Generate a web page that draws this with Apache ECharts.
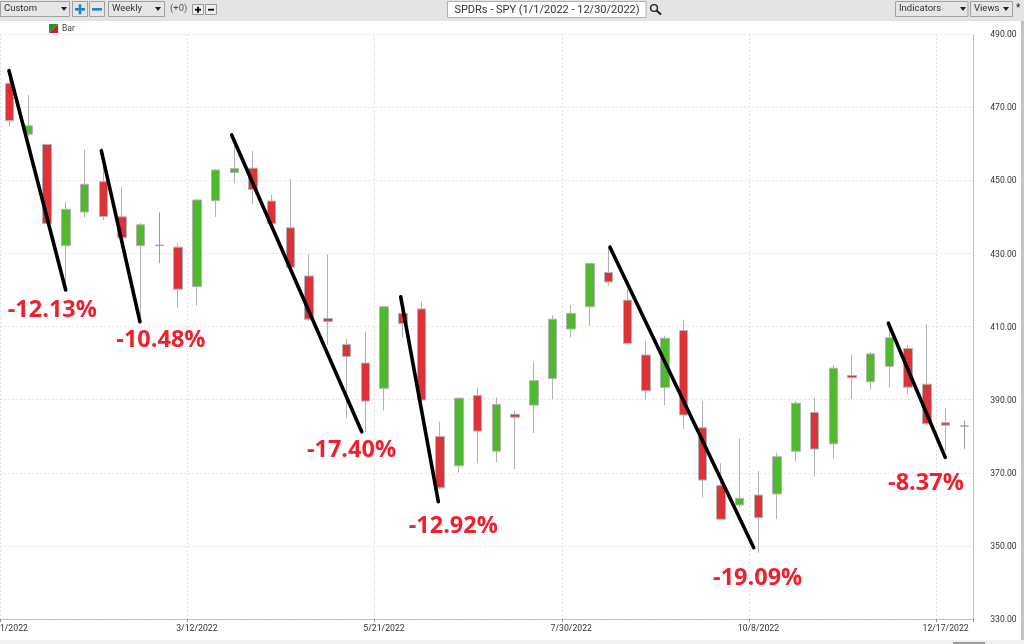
<!DOCTYPE html>
<html>
<head>
<meta charset="utf-8">
<style>html,body{margin:0;padding:0;background:#fff}#c{width:1024px;height:644px}</style>
<script src="https://cdn.jsdelivr.net/npm/echarts@6/dist/echarts.min.js"></script>
</head>
<body>
<div id="c"></div>
<script>
const categories = ['1/1/2022','1/8/2022','1/15/2022','1/22/2022','1/29/2022','2/5/2022','2/12/2022','2/19/2022','2/26/2022','3/5/2022','3/12/2022','3/19/2022','3/26/2022','4/2/2022','4/9/2022','4/16/2022','4/23/2022','4/30/2022','5/7/2022','5/14/2022','5/21/2022','5/28/2022','6/4/2022','6/11/2022','6/18/2022','6/25/2022','7/2/2022','7/9/2022','7/16/2022','7/23/2022','7/30/2022','8/6/2022','8/13/2022','8/20/2022','8/27/2022','9/3/2022','9/10/2022','9/17/2022','9/24/2022','10/1/2022','10/8/2022','10/15/2022','10/22/2022','10/29/2022','11/5/2022','11/12/2022','11/19/2022','11/26/2022','12/3/2022','12/10/2022','12/17/2022','12/24/2022'];
const opens  = [476.5,462.6,459.8,432.1,441.3,449.6,440.0,432.1,432.2,431.7,420.9,444.4,452.1,453.3,444.3,437.0,423.8,412.2,405.1,400.0,393.1,413.6,414.8,379.9,371.9,391.1,375.9,386.0,388.5,395.8,409.3,415.4,424.8,417.2,402.2,393.3,408.9,382.3,366.5,361.2,363.9,364.2,375.9,386.5,377.9,396.6,394.9,399.1,404.0,394.2,383.7,382.8];
const closes = [466.3,464.9,438.2,442.05,448.9,440.1,434.3,437.8,432.2,420.2,444.6,452.8,453.2,447.5,438.2,426.2,412.0,411.4,401.8,389.6,415.4,410.8,389.9,365.9,390.4,381.4,388.7,385.2,395.2,412.0,413.6,427.2,422.2,405.4,392.4,406.8,385.8,368.0,357.3,363.0,357.7,374.4,389.0,376.5,398.6,396.0,402.5,406.9,393.4,383.4,383.0,382.8];
const lows   = [464.7,462.0,438.0,420.5,439.8,439.1,434.0,411.3,427.3,415.1,415.7,440.0,449.2,443.5,437.5,426.0,411.5,405.0,385.0,381.0,387.0,407.0,389.7,365.5,370.0,372.6,372.9,371.0,380.9,390.1,407.0,410.2,421.2,405.0,389.9,388.5,382.0,363.3,357.0,360.5,348.1,357.3,373.0,368.9,373.7,390.2,392.7,393.3,391.5,383.0,376.0,376.5];
const highs  = [479.0,473.3,459.9,444.1,458.3,454.0,448.2,438.3,441.2,432.6,445.0,453.0,461.0,458.0,446.0,450.3,429.7,429.7,406.6,408.7,415.6,417.0,416.8,384.0,390.5,393.3,390.6,386.9,400.4,413.1,415.9,427.4,431.5,420.3,406.0,407.5,411.7,389.6,372.6,379.4,370.5,375.5,389.6,390.5,399.5,402.4,403.1,410.0,404.9,410.6,387.6,384.3];
const yTicks = [330,350,370,390,410,430,450,470,490];
const trendA = [[0.465,479.96],[3.494,420.0]];
const trendB = [[5.395,458.1],[7.46,411.3]];
const trendC = [[12.36,462.4],[19.31,381.2]];
const trendD = [[21.39,418.1],[23.4,362.1]];
const trendE = [[32.57,431.7],[40.25,349.5]];
const trendF = [[47.44,410.9],[50.48,374.2]];
const dropLabels = ['-12.13%','-10.48%','-17.40%','-12.92%','-19.09%','-8.37%'];
const dropX = [2.78,8.58,18.76,24.2,40.46,49.45];
const dropY = [414.8,406.6,376.5,355.7,341.5,367.5];

const uiFont = 'Roboto';
const candles = categories.map((_, i) => [opens[i], closes[i], lows[i], highs[i]]);
const trends = [trendA, trendB, trendC, trendD, trendE, trendF];

function rect(x,y,w,h,fill,stroke){return {type:'rect',shape:{x,y,width:w,height:h},style:{fill,stroke:stroke||null,lineWidth:1},silent:true};}
function txt(x,y,t,o){o=o||{};return {type:'text',x,y,style:{text:t,fill:o.fill||'#333',font:(o.size||9.5)+'px '+(o.font||uiFont),textAlign:o.align||'left',textVerticalAlign:'middle'},silent:true};}
function poly(pts,fill){return {type:'polygon',shape:{points:pts},style:{fill},silent:true};}
function seg(x1,y1,x2,y2,c,w){return {type:'line',shape:{x1,y1,x2,y2},style:{stroke:c,lineWidth:w},silent:true};}
function arrow(x,y){return poly([[x,y],[x+6,y],[x+3,y+4]],'#222');}
function select(x,w,label,ax){return [rect(x+.5,1.5,w,15,'#e6e6e6','#a0a0a0'),txt(x+4,9,label),arrow(ax,7)];}
const chrome = [
  rect(0,0,1024,21,'#e4e4e4'),
  rect(0,640,1024,4,'#f0f0f0'),
  rect(1021,21,3,619,'#c4c4c4'),
  rect(953,642,32,2,'#999'),
  ...select(0,69,'Custom',61),
  rect(72.5,1.5,15,15,'#e6e6e6','#a0a0a0'), rect(75,8,10,2.6,'#1f86c8'), rect(78.7,4.3,2.6,10,'#1f86c8'),
  rect(89.5,1.5,15,15,'#e6e6e6','#a0a0a0'), rect(92,8,10,2.6,'#1f86c8'),
  ...select(108,56,'Weekly',155),
  txt(170,9,'(+0)',{fill:'#555'}),
  rect(192.5,4.5,11,10,'#eee','#999'), rect(195,8.8,6,1.8,'#000'), rect(197.1,6.7,1.8,6,'#000'),
  rect(205.5,4.5,11,10,'#eee','#999'), rect(208,8.8,6,1.8,'#000'),
  rect(447.5,1.5,198.5,16,'#fff','#b0b0b0'),
  txt(547,10,'SPDRs - SPY (1/1/2022 - 12/30/2022)',{size:11,align:'center'}),
  {type:'circle',shape:{cx:654,cy:8,r:3.4},style:{fill:null,stroke:'#222',lineWidth:1.4},silent:true},
  seg(656.5,10.5,661,14.5,'#222',2),
  ...select(895,72.5,'Indicators',960),
  ...select(970,42,'Views',1003),
  txt(1016,8,'*',{size:10,fill:'#222'}),
  poly([[49,24],[58,24],[49,33]],'#1f9a24'), poly([[58,24],[58,33],[49,33]],'#cc1f24'),
  txt(62,29,'Bar',{size:8.5,fill:'#444'})
];

const option = {
  animation: false,
  backgroundColor: '#fff',
  textStyle: {fontFamily: uiFont},
  grid: {left: 0.3, top: 34, width: 973.4, height: 585, containLabel: false, outerBoundsMode: 'none'},
  xAxis: [
    {type: 'category', data: categories, boundaryGap: true, position: 'bottom',
     axisLine: {onZero: false, lineStyle: {color: '#8fc6ec', type: [2,1]}},
     axisTick: {show: true, length: 3, interval: 9, lineStyle: {color: '#999'}},
     axisLabel: {margin: 5, fontSize: 8.7, color: '#333', interval: 9, showMinLabel: true, hideOverlap: false},
     splitLine: {show: true, showMaxLine: false, interval: 9, lineStyle: {color: '#e2e2e2', type: [2,2], width: 1}}},
    {type: 'value', min: 0, max: 52, show: false}
  ],
  yAxis: [{
    type: 'value', min: 330, max: 490, position: 'right',
    axisLine: {show: true, onZero: false, lineStyle: {color: '#8fc6ec', type: [2,1]}},
    axisTick: {show: false, customValues: yTicks},
    axisLabel: {margin: 43, align: 'right', verticalAlign: 'top', lineHeight: 2, fontSize: 8.6, color: '#333', customValues: yTicks,
      formatter: v => v.toFixed(2)},
    splitLine: {show: true, showMinLine: false, lineStyle: {color: '#e2e2e2', type: [2,2], width: 1}}
  }],
  series: [
    {type: 'candlestick', xAxisIndex: 0, yAxisIndex: 0, data: candles, barWidth: 9, silent: true,
     itemStyle: {color: '#4fba2e', color0: '#db3338', borderColor: '#b2b2b2', borderColor0: '#b2b2b2', borderColorDoji: '#9a9a9a', borderWidth: 1}},
    ...trends.map(t => ({type: 'line', xAxisIndex: 1, yAxisIndex: 0, data: t, symbol: 'none', silent: true, z: 5,
      lineStyle: {color: '#000', width: 3.6, cap: 'round'}})),
    {type: 'scatter', xAxisIndex: 1, yAxisIndex: 0, symbolSize: 0, silent: true, z: 6,
     itemStyle: {opacity: 1},
     data: dropLabels.map((t,i) => ({value: [dropX[i], dropY[i]], name: t})),
     label: {show: true, position: 'inside', offset: [0,1], formatter: p => p.name, color: '#f01f2b', opacity: 1,
       fontFamily: 'Open Sans', fontWeight: 700, fontSize: 23.5}}
  ],
  graphic: chrome
};
const chart = echarts.init(document.getElementById('c'), null, {renderer: 'canvas'});
chart.setOption(option);
</script>
</body>
</html>
